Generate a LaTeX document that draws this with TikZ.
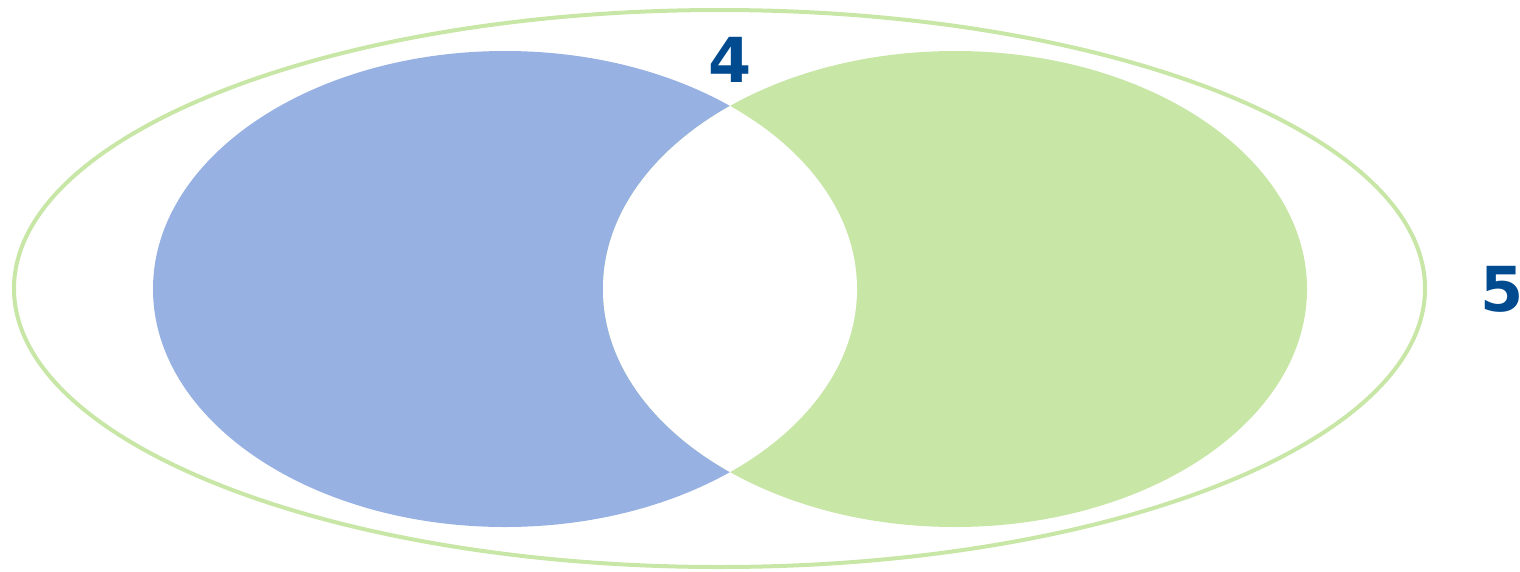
\documentclass[tikz,border=0pt]{standalone}
\usepackage{fontspec}
\setmainfont{DejaVu Sans}
\definecolor{vblue}{HTML}{98B1E3}
\definecolor{vgreen}{HTML}{C8E6A6}
\definecolor{vlabel}{HTML}{004A8F}
\begin{document}
\begin{tikzpicture}[x=1pt,y=-1pt,
  lbl/.style={font=\bfseries\fontsize{62}{62}\selectfont, text=vlabel, inner sep=0pt}]
\useasboundingbox (0,0) rectangle (1520,571);
\fill[vblue] (505,289) ellipse [x radius=352, y radius=238];
\fill[vgreen] (955,289) ellipse [x radius=352, y radius=238];
% white intersection
\begin{scope}
  \clip (505,289) ellipse [x radius=352, y radius=238];
  \fill[white] (955,289) ellipse [x radius=352, y radius=238];
\end{scope}
% outer universe
\draw[vgreen, line width=4pt] (719.5,288.5) ellipse [x radius=705.5, y radius=278.5];
\node[lbl] (four) at (730,60) {4};
\node[lbl] (five) at (1502,289) {5};
\end{tikzpicture}
\end{document}
